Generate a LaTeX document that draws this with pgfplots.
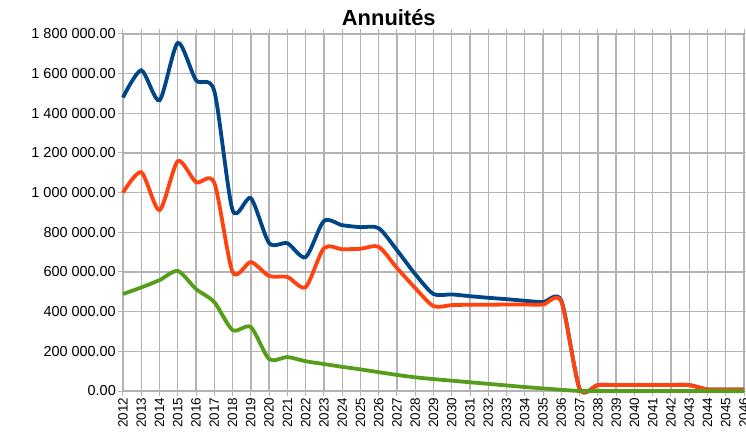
\documentclass[border=0pt]{standalone}
\usepackage{fontspec}
\setmainfont{Liberation Sans}
\usepackage{pgfplots}
\pgfplotsset{compat=1.18}
\definecolor{cblue}{HTML}{004586}
\definecolor{corange}{HTML}{FF420E}
\definecolor{cgreen}{HTML}{579D1C}
\definecolor{cgrid}{HTML}{B3B3B3}
\begin{document}
\begin{tikzpicture}
\begin{axis}[
  at={(0,0)}, anchor=south west,
  scale only axis, width=621bp, height=357bp,
  xmin=2012, xmax=2046, ymin=0, ymax=1800000,
  xtick={2012,2013,...,2046},
  /pgf/number format/assume math mode=true,
  x tick label style={rotate=90, anchor=east, font=\fontsize{13.5}{13.5}\selectfont, /pgf/number format/1000 sep={}, inner sep=1.5bp},
  ytick={0,200000,400000,600000,800000,1000000,1200000,1400000,1600000,1800000},
  yticklabels={0.00,200 000.00,400 000.00,600 000.00,800 000.00,1 000 000.00,1 200 000.00,1 400 000.00,1 600 000.00,1 800 000.00},
  y tick label style={font=\fontsize{14.5}{14.5}\selectfont, inner sep=2bp},
  scaled y ticks=false,
  grid=major, major grid style={cgrid, line width=1.3bp},
  axis line style={cgrid, line width=1.3bp},
  tick style={cgrid, line width=1bp}, tick align=outside, major tick length=5bp,
  title={Annuités},
  title style={font=\fontsize{22}{22}\selectfont\bfseries, at={(0.428,1)}, anchor=base, yshift=2.5bp, inner sep=0pt},
  clip=false,
]
\addplot[cblue, line width=3.8bp, smooth, tension=0.45] coordinates {
(2012,1480000) (2013,1617000) (2014,1466000) (2015,1755000) (2016,1567000) (2017,1512000)
(2018,912000) (2019,972000) (2020,746000) (2021,745000) (2022,675000) (2023,857000)
(2024,836000) (2025,826000) (2026,821000) (2027,710000) (2028,589000) (2029,489000)
(2030,487000) (2031,478000) (2032,470000) (2033,463000) (2034,455000) (2035,448000)
(2036,455000) (2037,12000) (2038,30000) (2039,30000) (2040,30000) (2041,30000)
(2042,30000) (2043,30000) (2044,8000) (2045,8000) (2046,8000)
};
\addplot[corange, line width=3.8bp, smooth, tension=0.45] coordinates {
(2012,1000000) (2013,1103000) (2014,912000) (2015,1159000) (2016,1053000) (2017,1050000)
(2018,600000) (2019,650000) (2020,580000) (2021,575000) (2022,524000) (2023,720000)
(2024,715000) (2025,717000) (2026,727000) (2027,620000) (2028,519000) (2029,428000)
(2030,433000) (2031,435000) (2032,435000) (2033,436000) (2034,436000) (2035,436000)
(2036,450000) (2037,12000) (2038,30000) (2039,30000) (2040,30000) (2041,30000)
(2042,30000) (2043,30000) (2044,8000) (2045,8000) (2046,8000)
};
\addplot[cgreen, line width=3.8bp, smooth, tension=0.45] coordinates {
(2012,489000) (2013,522000) (2014,559000) (2015,605000) (2016,514000) (2017,448000)
(2018,307000) (2019,322000) (2020,161000) (2021,171000) (2022,150000) (2023,136000)
(2024,122000) (2025,109000) (2026,95000) (2027,81000) (2028,69000) (2029,60000)
(2030,52000) (2031,44000) (2032,36000) (2033,28000) (2034,20000) (2035,13000)
(2036,6000) (2037,0) (2038,0) (2039,0) (2040,0) (2041,0)
(2042,0) (2043,0) (2044,0) (2045,0) (2046,0)
};
\end{axis}
\pgfresetboundingbox
\path[use as bounding box] (-123bp,-42bp) rectangle (623bp,391bp);
\end{tikzpicture}
\end{document}
